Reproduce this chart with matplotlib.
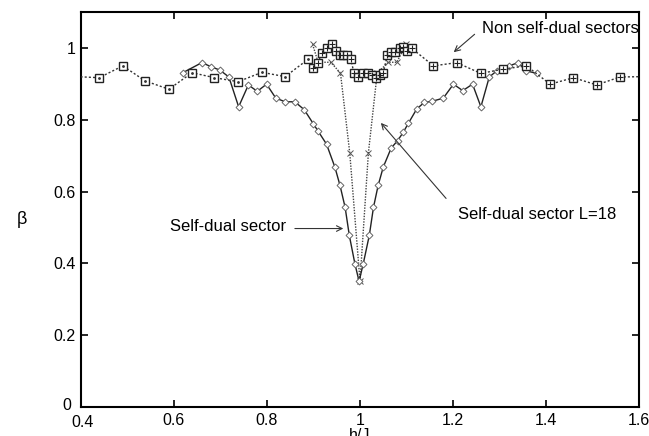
import numpy as np
import matplotlib
matplotlib.use('Agg')
import matplotlib.pyplot as plt
import matplotlib.transforms as mtransforms

plt.rcParams['font.family'] = ['Liberation Sans', 'DejaVu Sans']

# non self-dual sectors (squares)
sq_x = [0.39, 0.439, 0.49, 0.538, 0.589, 0.639, 0.687, 0.738, 0.789, 0.839, 0.889,
        0.898, 0.910, 0.918, 0.928, 0.939, 0.948, 0.957, 0.964, 0.971, 0.980, 0.987,
        0.996, 1.007, 1.018, 1.025, 1.034, 1.043, 1.050, 1.059, 1.066, 1.075, 1.086,
        1.093, 1.102, 1.111, 1.158, 1.208, 1.260, 1.308, 1.358, 1.409, 1.459, 1.509,
        1.559, 1.61]
sq_y = [0.92, 0.917, 0.95, 0.908, 0.885, 0.931, 0.917, 0.906, 0.932, 0.920, 0.969,
        0.945, 0.959, 0.987, 0.999, 1.010, 0.992, 0.981, 0.981, 0.981, 0.969, 0.931,
        0.918, 0.929, 0.929, 0.925, 0.916, 0.925, 0.931, 0.981, 0.990, 0.990, 0.999,
        1.003, 0.992, 0.999, 0.950, 0.959, 0.929, 0.941, 0.950, 0.899, 0.917, 0.897,
        0.919, 0.92]

# self-dual sector L=18 (crosses)
cr_x = [0.898, 0.910, 0.937, 0.958, 0.978, 1.0, 1.018, 1.037, 1.061, 1.079, 1.099]
cr_y = [1.010, 0.960, 0.960, 0.930, 0.707, 0.350, 0.707, 0.930, 0.960, 0.960, 1.010]

# self-dual sector (diamonds)
dm_x = [0.619, 0.660, 0.679, 0.699, 0.718, 0.739, 0.760, 0.779, 0.799, 0.819, 0.839,
        0.860, 0.880, 0.900, 0.910, 0.928, 0.946, 0.957, 0.968, 0.977, 0.989, 0.998,
        1.007, 1.020, 1.029, 1.039, 1.050, 1.067, 1.081, 1.093, 1.104, 1.122, 1.138,
        1.154, 1.179, 1.201, 1.221, 1.242, 1.260, 1.278, 1.294, 1.305, 1.321, 1.340,
        1.358, 1.380]
dm_y = [0.931, 0.959, 0.948, 0.938, 0.919, 0.836, 0.897, 0.879, 0.899, 0.860, 0.850,
        0.850, 0.828, 0.788, 0.768, 0.732, 0.668, 0.617, 0.556, 0.478, 0.399, 0.350,
        0.399, 0.478, 0.556, 0.617, 0.668, 0.721, 0.742, 0.765, 0.790, 0.830, 0.848,
        0.851, 0.860, 0.899, 0.881, 0.899, 0.836, 0.919, 0.936, 0.941, 0.950, 0.959,
        0.936, 0.929]

fig = plt.figure(figsize=(6.49, 4.36), dpi=100)
ax = fig.add_axes([81/649, 1-407/436, 558/649, 395/436])

sq_x = np.array(sq_x)
sq_y = np.array(sq_y)
ax.plot(sq_x, sq_y, color='#333333', lw=1.0, ls=(0, (1.5, 1.5)),
        marker='s', ms=5.5, mfc='white', mec='#222222', mew=1.0, zorder=3)
plain = sq_x < 0.895
ax.plot(sq_x[plain], sq_y[plain], ls='none', marker='.', ms=2, color='#333333', zorder=4)
ax.plot(sq_x[~plain], sq_y[~plain], ls='none', marker='+', ms=4.5, mew=0.8, color='#222222', zorder=4)

ax.plot(cr_x, cr_y, color='#444444', lw=1.0, ls=(0, (1, 1)),
        marker='x', ms=5, mew=0.7, mec='#555555', zorder=2)

ax.plot(dm_x, dm_y, color='#222222', lw=1.0,
        marker='D', ms=3.5, mfc='white', mec='#666666', mew=0.7, zorder=2)

ax.set_xlim(0.4, 1.6)
ax.set_ylim(0, 1.1)
ax.set_xticks(np.arange(0.4, 1.61, 0.2))
ax.set_xticklabels(['0.4', '0.6', '0.8', '1', '1.2', '1.4', '1.6'])
ax.set_yticks(np.arange(0, 1.01, 0.2))
ax.set_yticklabels(['0', '0.2', '0.4', '0.6', '0.8', '1'])
ax.tick_params(direction='in', top=True, right=True, length=5, width=1.2,
               labelsize=11.5, pad=4)
for s in ax.spines.values():
    s.set_linewidth(1.5)

# gnuplot-style corner labels: "0" raised, "0.4" lowered
ylab0 = ax.get_yticklabels()[0]
ylab0.set_transform(ylab0.get_transform() + mtransforms.ScaledTranslation(-4/100, 3/100, fig.dpi_scale_trans))
xlab0 = ax.get_xticklabels()[0]
xlab0.set_transform(xlab0.get_transform() + mtransforms.ScaledTranslation(2/100, -2/100, fig.dpi_scale_trans))

ax.set_xlabel('h/J', fontsize=11.5, labelpad=-1)
ax.set_ylabel('β', fontsize=13, rotation=0, va='center')
ax.yaxis.set_label_coords(-0.105, 0.475)

arr = dict(arrowstyle='->', color='#333333', lw=0.8)
ax.annotate('Non self-dual sectors', xy=(1.262, 1.053), fontsize=12, va='center', ha='left')
ax.annotate('', xy=(1.197, 0.983), xytext=(1.251, 1.043), arrowprops=arr)
ax.annotate('Self-dual sector L=18', xy=(1.211, 0.536), fontsize=12, va='center', ha='left')
ax.annotate('', xy=(1.041, 0.797), xytext=(1.189, 0.575), arrowprops=arr)
ax.annotate('Self-dual sector', xy=(0.591, 0.503), fontsize=12, va='center', ha='left')
ax.annotate('', xy=(0.970, 0.497), xytext=(0.854, 0.497), arrowprops=arr)

fig.savefig('out.png', dpi=100)
